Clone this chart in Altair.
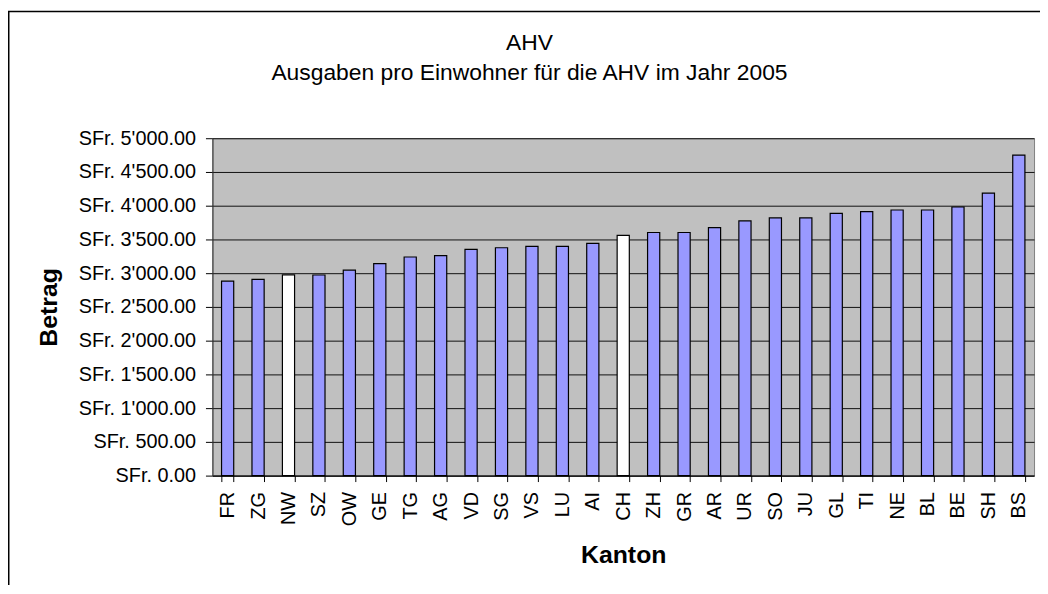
import altair as alt
import pandas as pd

kantone = ["FR", "ZG", "NW", "SZ", "OW", "GE", "TG", "AG", "VD", "SG", "VS", "LU", "AI", "CH",
           "ZH", "GR", "AR", "UR", "SO", "JU", "GL", "TI", "NE", "BL", "BE", "SH", "BS"]
betrag = [2882, 2907, 2975, 2973, 3044, 3142, 3240, 3260, 3353, 3377, 3397, 3397, 3441, 3559,
          3603, 3603, 3676, 3775, 3819, 3819, 3887, 3912, 3936, 3936, 3981, 4186, 4750]
hervorgehoben = ["NW", "CH"]
y_ticks = [0, 500, 1000, 1500, 2000, 2500, 3000, 3500, 4000, 4500, 5000]
titel = "AHV"
untertitel = "Ausgaben pro Einwohner für die AHV im Jahr 2005"

df = pd.DataFrame({
    "Kanton": kantone,
    "Betrag": betrag,
    "Gruppe": ["weiss" if k in hervorgehoben else "blau" for k in kantone],
})

FONT = "Liberation Sans"
W, H = 828, 340

label_expr = "'SFr. ' + replace(format(datum.value, ',.2f'), ',', \"'\")"

bars = alt.Chart(df).mark_bar(stroke="black", strokeWidth=1.2).encode(
    x=alt.X(
        "Kanton:N", sort=None,
        scale=alt.Scale(paddingInner=0.6, paddingOuter=0.3),
        axis=alt.Axis(
            title="Kanton", labelAngle=270, labelAlign="right", labelBaseline="middle",
            labelFontSize=20, labelPadding=10, tickBand="extent", tickSize=6,
            tickColor="black", domainColor="black", grid=False,
            titleFontSize=25, titleFontWeight="bold", titleX=414, titleY=80,
            titleBaseline="middle", titleAlign="center",
            labelColor="black", titleColor="black", labelFont=FONT, titleFont=FONT,
        ),
    ),
    y=alt.Y(
        "Betrag:Q",
        scale=alt.Scale(domain=[0, 5000], nice=False),
        axis=alt.Axis(
            values=y_ticks, labelExpr=label_expr, title="Betrag",
            titleAngle=270, titleX=-165, titleY=170, titleBaseline="middle", titleAlign="center",
            titleFontSize=25, titleFontWeight="bold", labelFontSize=20, labelPadding=10,
            tickSize=7, tickColor="black", domainColor="#333333",
            grid=True, gridColor="#111111", gridOpacity=1, gridWidth=1,
            labelColor="black", titleColor="black", labelFont=FONT, titleFont=FONT,
        ),
    ),
    color=alt.Color("Gruppe:N", scale=alt.Scale(domain=["blau", "weiss"], range=["#9999FF", "#FFFFFF"]), legend=None),
)

t1 = alt.Chart(pd.DataFrame({"t": [titel]})).mark_text(
    font=FONT, fontSize=23, color="black", align="center", baseline="alphabetic"
).encode(text="t:N", x=alt.value(319.5), y=alt.value(-88.7))

t2 = alt.Chart(pd.DataFrame({"t": [untertitel]})).mark_text(
    font=FONT, fontSize=23, color="black", align="center", baseline="alphabetic"
).encode(text="t:N", x=alt.value(319.5), y=alt.value(-58.7))

frame = alt.Chart(pd.DataFrame({"a": [0]})).mark_rect(
    fill="white", fillOpacity=0, stroke="black", strokeWidth=1.5
).encode(x=alt.value(-205.25), x2=alt.value(1200), y=alt.value(-127.7), y2=alt.value(1200))

chart = alt.layer(frame, bars, t1, t2).properties(
    width=W, height=H,
    padding={"left": 206, "top": 129, "right": 6, "bottom": 108},
    autosize=alt.AutoSizeParams(type="none"),
).configure(
    font=FONT, background="white"
).configure_view(
    fill="#C0C0C0", stroke="#808080", strokeWidth=1
)

chart.save("out.html", embed_options={"renderer": "svg", "actions": False})
